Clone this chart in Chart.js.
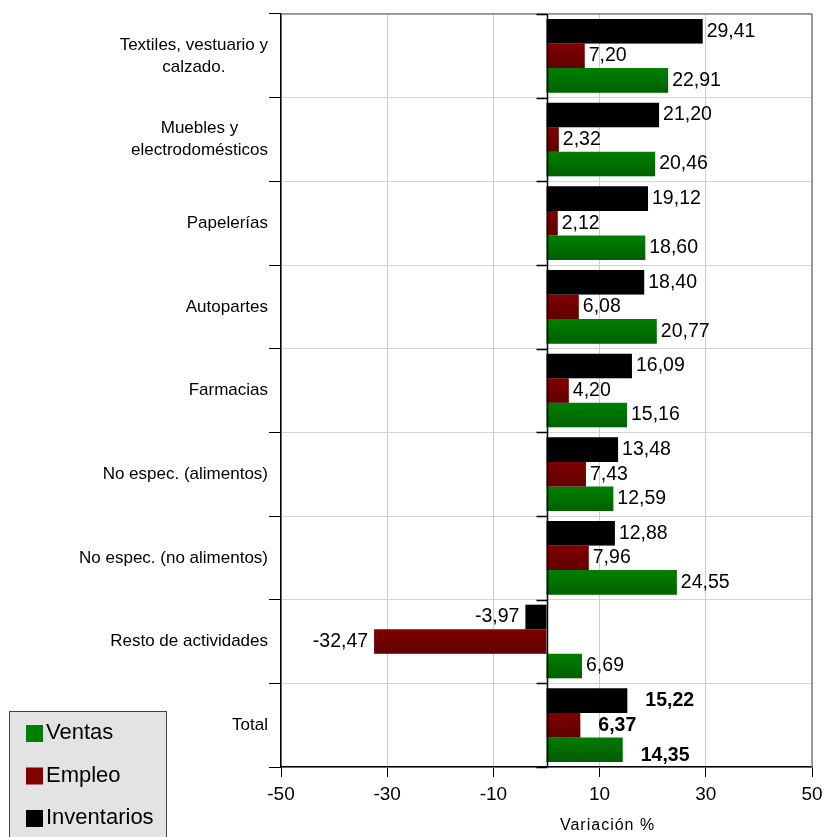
<!DOCTYPE html>
<html>
<head>
<meta charset="utf-8">
<script src="https://cdn.jsdelivr.net/npm/chart.js@4.4.1/dist/chart.umd.min.js"></script>
<style>
  html, body { margin: 0; padding: 0; background: #fff; }
  #wrap { width: 825px; height: 837px; position: relative; }
</style>
</head>
<body>
<div id="wrap"><canvas id="c"></canvas></div>
<script>
// values
const categories = [
  'Textiles, vestuario y\ncalzado.',
  'Muebles y\nelectrodomésticos',
  'Papelerías',
  'Autopartes',
  'Farmacias',
  'No espec. (alimentos)',
  'No espec. (no alimentos)',
  'Resto de actividades',
  'Total'
];
const ventas      = [22.91, 20.46, 18.60, 20.77, 15.16, 12.59, 24.55, 6.69, 14.35];
const empleo      = [7.20, 2.32, 2.12, 6.08, 4.20, 7.43, 7.96, -32.47, 6.37];
const inventarios = [29.41, 21.20, 19.12, 18.40, 16.09, 13.48, 12.88, -3.97, 15.22];
const xTicks = [-50, -30, -10, 10, 30, 50];
const axisTitle = 'Variación %';

const FONT = '"Liberation Sans", Arial, sans-serif';
const fmt = v => v.toFixed(2).replace('.', ',');
const isTotal = i => categories[i] === 'Total';

// shade bars a bit darker toward the bottom, like the original
const shadePlugin = {
  id: 'shade',
  afterDatasetsDraw(chart) {
    const ctx = chart.ctx;
    chart.data.datasets.forEach((ds, di) => {
      chart.getDatasetMeta(di).data.forEach((el, i) => {
        const { x, y, base, height } = el.getProps(['x', 'y', 'base', 'height'], true);
        const l = Math.min(x, base), w = Math.abs(x - base);
        const t = y - height / 2;
        const g = ctx.createLinearGradient(0, t, 0, t + height);
        g.addColorStop(0, 'rgba(0,0,0,0)');
        g.addColorStop(1, 'rgba(0,0,0,0.25)');
        ctx.fillStyle = g;
        ctx.fillRect(l, t, w, height);
        if (isTotal(i) && di > 0) {
          ctx.fillStyle = 'rgba(0,0,0,0.18)';
          for (let yy = Math.ceil(t); yy < t + height; yy += 2) {
            for (let xx = Math.ceil(l) + (yy % 4 === 0 ? 0 : 1); xx < l + w; xx += 3) {
              ctx.fillRect(xx, yy, 1, 1);
            }
          }
        }
      });
    });
  }
};

// frame, zero line, category + value labels, axis title and legend box
const decoPlugin = {
  id: 'deco',
  afterDatasetsDraw(chart) {
    const ctx = chart.ctx;
    const a = chart.chartArea;
    const xs = chart.scales.x, ys = chart.scales.y;

    ctx.save();
    ctx.strokeStyle = '#808080';
    ctx.lineWidth = 1.5;
    ctx.beginPath();
    ctx.moveTo(a.left, a.top); ctx.lineTo(a.right, a.top); ctx.lineTo(a.right, a.bottom);
    ctx.stroke();

    const x0 = Math.round(xs.getPixelForValue(0)) + 0.5;
    ctx.strokeStyle = '#000';
    ctx.lineWidth = 1.5;
    ctx.beginPath();
    ctx.moveTo(x0, a.top); ctx.lineTo(x0, a.bottom);
    const band = (a.bottom - a.top) / categories.length;
    for (let i = 0; i <= categories.length; i++) {
      const yy = Math.round(a.top + i * band) + 0.5;
      ctx.moveTo(x0 - 11, yy); ctx.lineTo(x0, yy);
    }
    ctx.stroke();

    // category labels: block right-aligned, lines centred within it
    ctx.fillStyle = '#000';
    ctx.textBaseline = 'middle';
    ctx.font = '17px ' + FONT;
    ctx.textAlign = 'center';
    categories.forEach((c, i) => {
      const lines = c.split('\n');
      const w = Math.max(...lines.map(s => ctx.measureText(s).width));
      const cx = 268 - w / 2;
      const cy = ys.getPixelForValue(i);
      const lh = 22;
      lines.forEach((s, k) => {
        ctx.fillText(s, cx, cy + (k - (lines.length - 1) / 2) * lh);
      });
    });

    // value labels
    chart.data.datasets.forEach((ds, di) => {
      chart.getDatasetMeta(di).data.forEach((el, i) => {
        const v = ds.data[i];
        const { x, y } = el.getProps(['x', 'y'], true);
        const tot = isTotal(i);
        ctx.font = (tot ? 'bold ' : '') + '19.5px ' + FONT;
        if (v >= 0) {
          ctx.textAlign = 'left';
          ctx.fillText(fmt(v), x + (tot ? 18 : 4), y + (tot && di === 2 ? 6 : 0));
        } else {
          ctx.textAlign = 'right';
          ctx.fillText(fmt(v), x - 6, y);
        }
      });
    });

    // axis title
    ctx.font = '16px ' + FONT;
    ctx.letterSpacing = '1px';
    ctx.textAlign = 'center';
    ctx.fillText(axisTitle, xs.getPixelForValue(11.5), 826);
    ctx.letterSpacing = '0px';

    // legend
    ctx.fillStyle = '#e3e3e3';
    ctx.fillRect(9, 711, 158, 130);
    ctx.strokeStyle = '#404040';
    ctx.lineWidth = 1;
    ctx.strokeRect(9.5, 711.5, 157, 130);
    const order = [2, 1, 0];
    ctx.font = '22px ' + FONT;
    ctx.textAlign = 'left';
    order.forEach((di, k) => {
      const ds = chart.data.datasets[di];
      const cy = 733 + k * 42.5;
      ctx.fillStyle = ds.backgroundColor;
      ctx.fillRect(26, cy - 8, 17, 17);
      ctx.fillStyle = '#000';
      ctx.fillText(ds.label, 46, cy);
    });
    ctx.restore();
  }
};

new Chart(document.getElementById('c'), {
  type: 'bar',
  data: {
    labels: categories,
    datasets: [
      { label: 'Inventarios', data: inventarios, backgroundColor: '#000000' },
      { label: 'Empleo', data: empleo, backgroundColor: '#800000' },
      { label: 'Ventas', data: ventas, backgroundColor: '#008000' }
    ]
  },
  options: {
    indexAxis: 'y',
    responsive: true,
    maintainAspectRatio: false,
    animation: false,
    layout: { padding: { top: 14, right: 13, left: 0, bottom: 0 } },
    categoryPercentage: 0.88,
    barPercentage: 1.0,
    plugins: { legend: { display: false }, tooltip: { enabled: false } },
    scales: {
      x: {
        min: -50, max: 50,
        afterBuildTicks: s => { s.ticks = xTicks.map(v => ({ value: v })); },
        afterFit: s => { s.height = 70; s.paddingLeft = 0; s.paddingRight = 0; },
        grid: { color: '#cccccc', tickColor: '#000', tickLength: 10, lineWidth: 1 },
        border: { color: '#000', width: 1.5 },
        ticks: { color: '#000', font: { family: FONT, size: 19 }, padding: 6, maxRotation: 0 }
      },
      y: {
        afterFit: s => { s.width = 281; },
        grid: { color: '#d4d4d4', tickColor: '#000', tickLength: 12, offset: true },
        border: { color: '#000', width: 1.5 },
        ticks: { display: false }
      }
    }
  },
  plugins: [shadePlugin, decoPlugin]
});
</script>
</body>
</html>
